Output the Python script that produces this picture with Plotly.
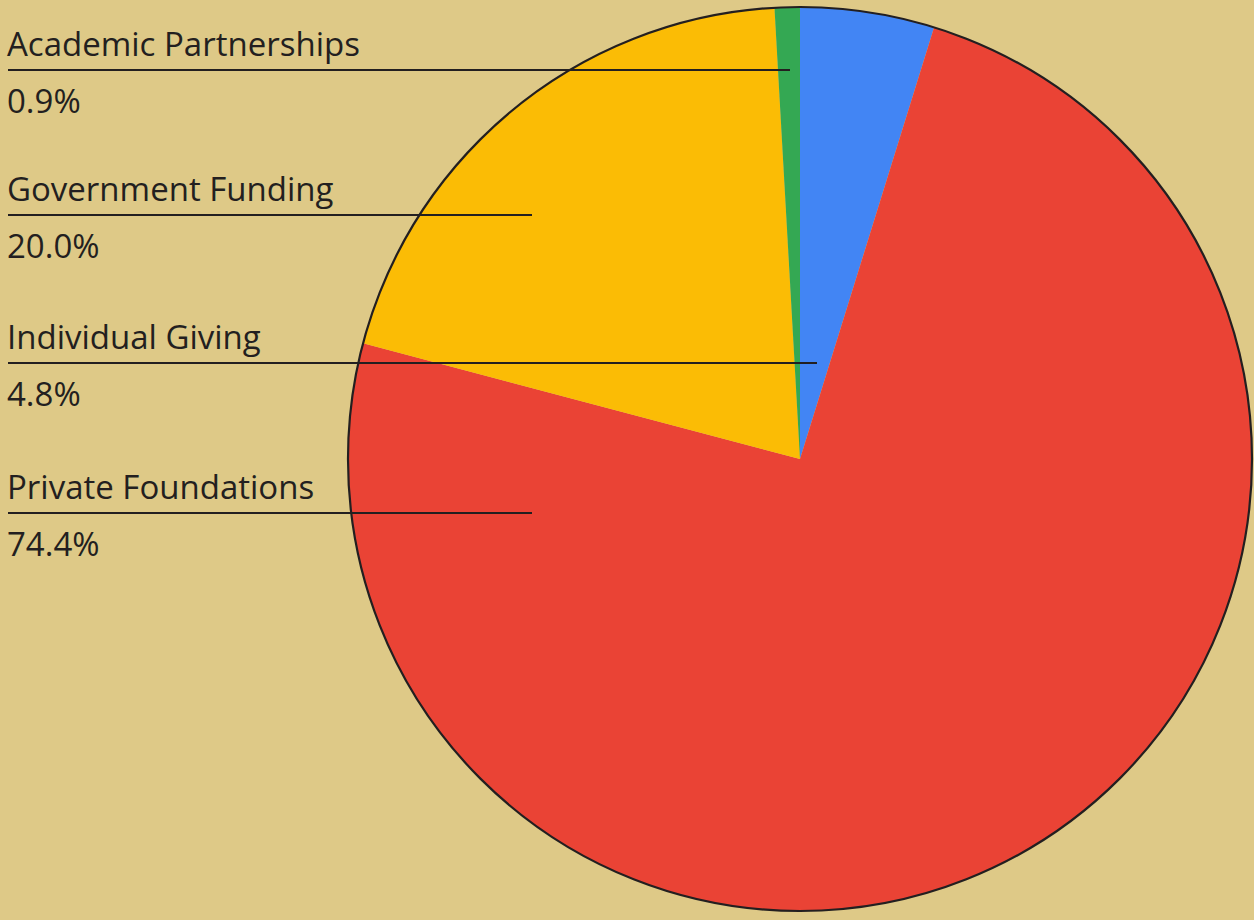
import plotly.graph_objects as go

# ---- data ----
categories = ["Individual Giving", "Private Foundations", "Government Funding", "Academic Partnerships"]
values = [4.8, 74.4, 20.0, 0.9]
colors = ["#4285F4", "#EA4335", "#FBBC05", "#34A853"]
label_order = ["Academic Partnerships", "Government Funding", "Individual Giving", "Private Foundations"]

W, H = 1254, 920
BG = "#DEC987"
INK = "#231F20"

def px(x):
    return x / W

def py(y):
    return 1 - y / H

# pie placement (pixel box)
pie_left, pie_right, pie_top, pie_bottom = 348, 1252, 7, 911

fig = go.Figure()
fig.add_trace(go.Pie(
    labels=categories, values=values, sort=False, direction="clockwise", rotation=0,
    marker=dict(colors=colors, line=dict(width=0)),
    textinfo="none", hoverinfo="label+percent", showlegend=False,
    domain=dict(x=[px(pie_left), px(pie_right)], y=[py(pie_bottom), py(pie_top)]),
))
# outer outline
fig.add_trace(go.Pie(
    labels=["outline"], values=[1], sort=False,
    marker=dict(colors=["rgba(0,0,0,0)"], line=dict(width=2.2, color=INK)),
    textinfo="none", hoverinfo="skip", showlegend=False,
    domain=dict(x=[px(pie_left), px(pie_right)], y=[py(pie_bottom), py(pie_top)]),
))

# leader layout: line y and end x per label (pixels)
line_y = [70, 215, 363, 513]
line_end_x = [790, 532, 817, 532]
text_x = 8

shapes = []
annotations = []
for name, ly, ex in zip(label_order, line_y, line_end_x):
    v = values[categories.index(name)]
    shapes.append(dict(type="line", xref="paper", yref="paper",
                       x0=px(text_x), x1=px(ex), y0=py(ly), y1=py(ly),
                       line=dict(color=INK, width=1.8)))
    annotations.append(dict(text=name, xref="paper", yref="paper", x=px(text_x - 3), y=py(ly - 2),
                            xanchor="left", yanchor="bottom", showarrow=False,
                            font=dict(family="Open Sans", size=33, color=INK)))
    annotations.append(dict(text=f"{v:.1f}%", xref="paper", yref="paper", x=px(text_x - 3), y=py(ly + 6),
                            xanchor="left", yanchor="top", showarrow=False,
                            font=dict(family="Open Sans", size=33, color=INK)))

fig.update_layout(
    width=W, height=H, margin=dict(l=0, r=0, t=0, b=0),
    paper_bgcolor=BG, plot_bgcolor=BG,
    shapes=shapes, annotations=annotations,
)
fig.write_html("out.html", config={"displayModeBar": False},
               post_script="document.body.style.margin='0';document.body.style.background='" + BG + "';")
